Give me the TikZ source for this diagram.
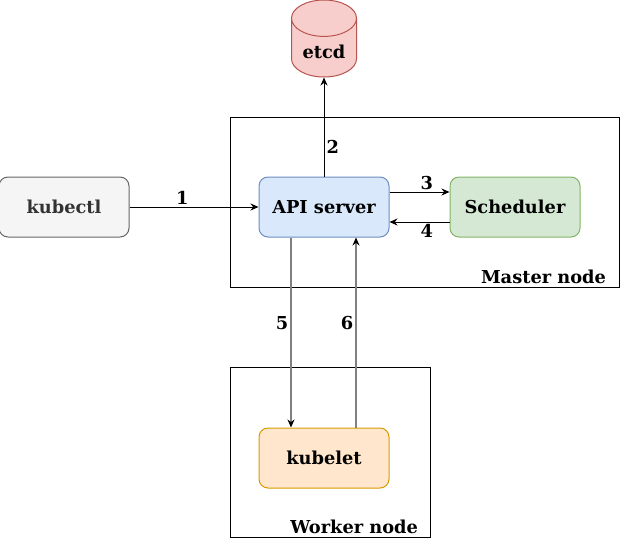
\documentclass[tikz,border=0pt]{standalone}
\usepackage{fontspec}
\setmainfont{DejaVu Serif}
\usepackage{xcolor}
\usepackage{tikz}
\usetikzlibrary{shapes.geometric, arrows.meta, positioning}

\definecolor{grayfill}{HTML}{F5F5F5}
\definecolor{graydraw}{HTML}{666666}
\definecolor{graytext}{HTML}{333333}
\definecolor{bluefill}{HTML}{DAE8FC}
\definecolor{bluedraw}{HTML}{6C8EBF}
\definecolor{greenfill}{HTML}{D5E8D4}
\definecolor{greendraw}{HTML}{82B366}
\definecolor{orangefill}{HTML}{FFE6CC}
\definecolor{orangedraw}{HTML}{D79B00}
\definecolor{redfill}{HTML}{F8CECC}
\definecolor{reddraw}{HTML}{B85450}
\definecolor{linkgray}{HTML}{808080}

\begin{document}
\begin{tikzpicture}[
    x=1pt, y=-1pt,
    line width=1pt,
    font=\fontsize{17.8}{20}\selectfont\bfseries,
    component/.style={rectangle, draw, rounded corners=9pt, minimum width=130pt, minimum height=60pt, inner sep=0pt},
    group/.style={rectangle, draw, line width=1pt, inner sep=0pt},
    arrow/.style={-{Stealth[length=8pt, width=7pt, black]}},
    num/.style={inner sep=2pt}
  ]
    \useasboundingbox (0,0) rectangle (620,539);

    % Master node
    \node[group, minimum width=389pt, minimum height=170pt] (master) at (424.5,202) {};
    \node[anchor=south east, inner sep=0pt] (master-lbl) at ([xshift=-13pt, yshift=3pt]master.south east) {Master node};

    % Worker node
    \node[group, minimum width=200pt, minimum height=170pt] (worker) at (330,452) {};
    \node[anchor=south east, inner sep=0pt] (worker-lbl) at ([xshift=-12pt, yshift=3pt]worker.south east) {Worker node};

    % Components
    \node[component, fill=bluefill, draw=bluedraw] (api) at (324,207) {API server};
    \node[component, fill=grayfill, draw=graydraw, text=graytext, left=129pt of api] (kubectl) {kubectl};
    \node[component, fill=greenfill, draw=greendraw, right=60pt of api] (scheduler) {Scheduler};
    \node[component, fill=orangefill, draw=orangedraw, below=190pt of api] (kubelet) {kubelet};

    % Storage
    \node[cylinder, shape border rotate=90, aspect=0.85, draw=reddraw, fill=redfill,
          minimum width=65pt, minimum height=77pt, inner sep=0pt, above=99pt of api] (etcd) {\raisebox{-11pt}[0pt][0pt]{etcd}};

    % Arrows
    \draw[arrow] (kubectl) -- node[num, above, pos=0.41] {1} (api);
    \draw[arrow] (api) -- node[num, right, pos=0.3] {2} (etcd);
    \draw[arrow] ([yshift=15pt]api.east) -- node[num, above, pos=0.62] {3} ([yshift=15pt]scheduler.west);
    \draw[arrow] ([yshift=-15pt]scheduler.west) -- node[num, below, pos=0.38] {4} ([yshift=-15pt]api.east);

    % Arrows - API server and kubelet
    \draw[arrow, linkgray, line width=1.3pt] ([xshift=-33pt]api.south) -- node[num, left, black, pos=0.45] {5} ([xshift=-33pt]kubelet.north);
    \draw[arrow, linkgray, line width=1.3pt] ([xshift=32pt]kubelet.north) -- node[num, left, black, pos=0.55] {6} ([xshift=32pt]api.south);

\end{tikzpicture}
\end{document}
